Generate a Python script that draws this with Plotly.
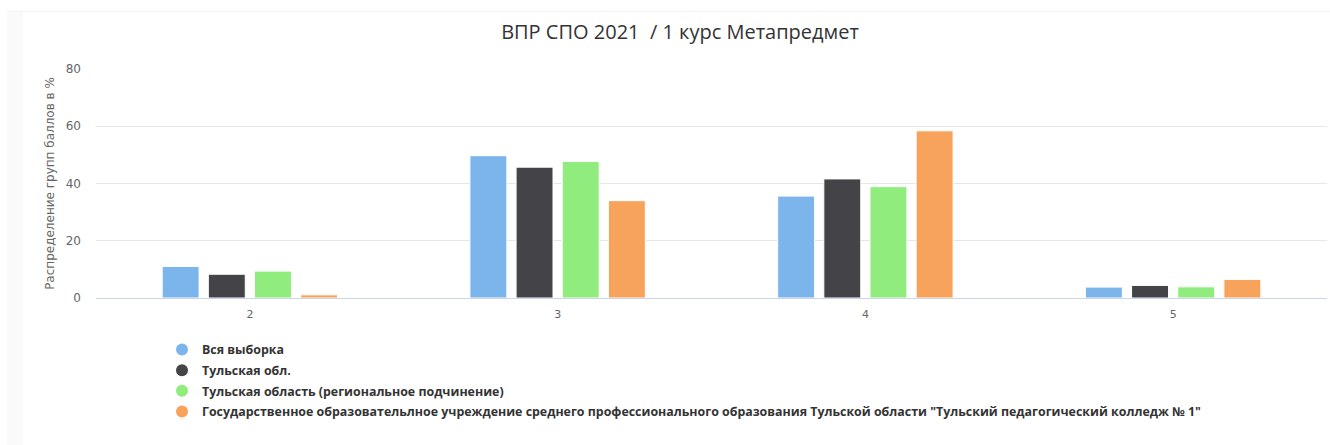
import plotly.graph_objects as go

categories = ["2", "3", "4", "5"]
series_names = [
    "Вся выборка",
    "Тульская обл.",
    "Тульская область (региональное подчинение)",
    "Государственное образовательлное учреждение среднего профессионального образования Тульской области \"Тульский педагогический колледж № 1\"",
]
vals_all = [11.0, 49.7, 35.6, 3.8]
vals_region = [8.3, 45.7, 41.6, 4.4]
vals_regsub = [9.4, 47.7, 38.9, 3.9]
vals_college = [1.1, 34.0, 58.4, 6.5]
colors = ["#7cb5ec", "#434348", "#90ed7d", "#f7a35c"]
yticks = [0, 20, 40, 60, 80]

W, H = 1330, 445
L, R, T, B = 96, 3, 69, 147
pw, ph = W - L - R, H - T - B

def px(x):
    return (x - L) / pw

def py(y):
    return (H - B - y) / ph

fig = go.Figure()
for name, vals, col in zip(series_names, [vals_all, vals_region, vals_regsub, vals_college], colors):
    fig.add_trace(go.Bar(x=categories, y=vals, name=name, marker_color=col,
                         marker_line=dict(color="white", width=1), showlegend=False))
for i, (name, col) in enumerate(zip(series_names, colors)):
    fig.add_trace(go.Scatter(x=[None], y=[None], mode="markers", name=name, legendgroup=f"g{i}",
                             marker=dict(color=col, size=12, symbol="circle")))

shapes = [
    dict(type="rect", xref="paper", yref="paper", x0=px(7), x1=px(1330), y0=py(445), y1=py(11),
         fillcolor="#f3f3f3", line_width=0, layer="below"),
    dict(type="rect", xref="paper", yref="paper", x0=px(7), x1=px(1330), y0=py(445), y1=py(12),
         fillcolor="#fafafa", line_width=0, layer="below"),
    dict(type="rect", xref="paper", yref="paper", x0=px(23), x1=px(1330), y0=py(445), y1=py(12),
         fillcolor="white", line_width=0, layer="below"),
]

fig.update_layout(
    width=W, height=H,
    margin=dict(l=L, r=R, t=T, b=B),
    paper_bgcolor="white", plot_bgcolor="rgba(0,0,0,0)",
    font=dict(family="DejaVu Sans", color="#666666", size=11),
    title=dict(text="ВПР СПО 2021  / 1 курс Метапредмет", x=680 / W, xanchor="center",
               y=1 - 32 / H, yanchor="middle", font=dict(family="Open Sans", size=20, color="#333333")),
    barmode="group", bargap=0.4, bargroupgap=0.2,
    shapes=shapes,
    legend=dict(orientation="v", x=px(162), xanchor="left", y=py(335), yanchor="top",
                font=dict(family="Open Sans", size=12.4, color="#333333", weight="bold"),
                bgcolor="rgba(0,0,0,0)", tracegroupgap=1.5, itemsizing="constant"),
    showlegend=True,
)
fig.update_xaxes(type="category", showgrid=False, showline=True, linecolor="#ccd6eb", linewidth=1,
                 ticks="", tickfont=dict(size=11, color="#666666"), ticklabelstandoff=6,
                 zeroline=False, fixedrange=True)
fig.update_yaxes(range=[0, 80], tickvals=yticks, showgrid=True, gridcolor="#e6e6e6", gridwidth=1,
                 zeroline=False, showline=False, tickfont=dict(size=12, color="#666666"),
                 ticklabelstandoff=14,
                 title=dict(text="Распределение групп баллов в %", font=dict(size=12, color="#666666"),
                            standoff=8), fixedrange=True)

fig.write_html("out.html", config={"displayModeBar": False},
               post_script="document.body.style.margin='0';")
